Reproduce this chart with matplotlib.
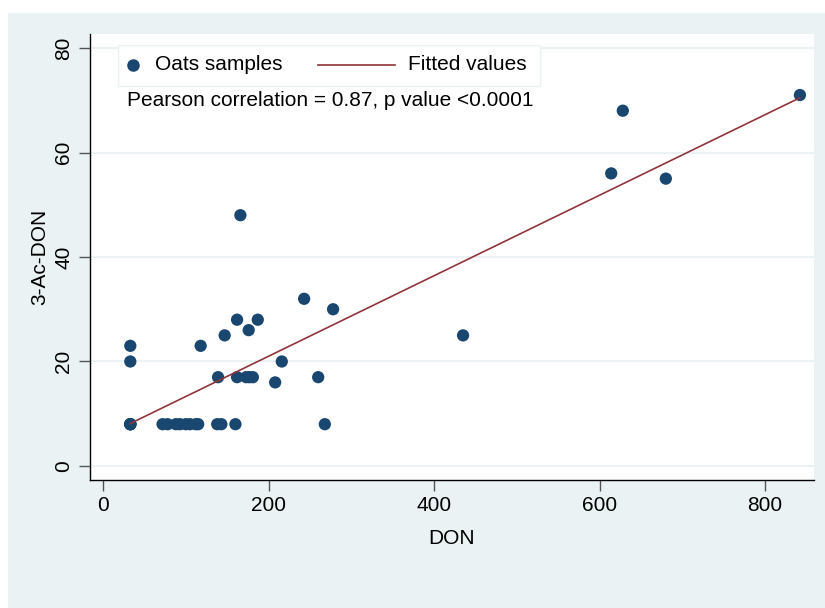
import numpy as np
import matplotlib
matplotlib.use("Agg")
import matplotlib.pyplot as plt
from matplotlib.patches import Rectangle

# DON vs 3-Ac-DON in oats samples
don = [33, 33, 33, 33, 72, 78, 88, 93, 100, 105, 112, 115, 138, 143, 160, 268,
       33, 33, 118, 147, 162, 187, 176, 166, 139, 162, 173, 177, 181, 208, 216,
       243, 260, 278, 435, 614, 628, 680, 842]
ac_don = [8, 8, 8, 8, 8, 8, 8, 8, 8, 8, 8, 8, 8, 8, 8, 8,
          20, 23, 23, 25, 28, 28, 26, 48, 17, 17, 17, 17, 17, 16, 20,
          32, 17, 30, 25, 56, 68, 55, 71]
y_ticks = [0, 20, 40, 60, 80]
x_ticks = [0, 200, 400, 600, 800]

navy = "#1a476f"
maroon = "#90353b"
bg = "#eaf2f3"

plt.rcParams['font.family'] = ['Liberation Sans', 'DejaVu Sans']

fig = plt.figure(figsize=(8.25, 6.08), dpi=100, facecolor="white")
fig.patches.append(Rectangle((8 / 825, 0), 1, 1 - 13 / 608, transform=fig.transFigure,
                             facecolor=bg, edgecolor="none", zorder=-10))
ax = fig.add_axes([90 / 825, 1 - 480 / 608, 724 / 825, 446 / 608])
ax.set_facecolor("white")

# fitted line
x = np.array(don, dtype=float)
y = np.array(ac_don, dtype=float)
slope, intercept = np.polyfit(x, y, 1)
xf = np.array([x.min(), x.max()])
ax.plot(xf, intercept + slope * xf, color=maroon, lw=1.2, zorder=3)
ax.scatter(x, y, s=78, color=navy, edgecolors="none", zorder=2)

ax.set_xlim(-15.7, 859)
ax.set_ylim(-2.68, 82.68)
ax.set_xticks(x_ticks)
ax.set_yticks(y_ticks)
for t in y_ticks:
    ax.axhline(t, color=bg, lw=1.5, zorder=1)

for s in ["top", "right"]:
    ax.spines[s].set_visible(False)
for s in ["left", "bottom"]:
    ax.spines[s].set_color("black")
    ax.spines[s].set_linewidth(1.0)
ax.tick_params(axis="both", length=8, width=1, color="#555555", labelsize=15)
ax.tick_params(axis="y", labelrotation=90, pad=4)
for lbl in ax.get_yticklabels():
    lbl.set_va("center")
ax.set_xlabel("DON", fontsize=15, labelpad=10)
ax.set_ylabel("3-Ac-DON", fontsize=15, labelpad=4)


# legend box drawn by hand (marker and line keys have different widths)
def px(xp, yp):
    return (xp - 90) / 724, (480 - yp) / 446


x0, y0 = px(118, 86)
x1, y1 = px(540, 45)
ax.add_patch(Rectangle((x0, y0), x1 - x0, y1 - y0, transform=ax.transAxes,
                       facecolor="white", edgecolor=bg, lw=1.0, zorder=5))
mx, my = px(133, 65)
ax.plot([mx], [my], "o", color=navy, markersize=8, transform=ax.transAxes, zorder=6)
ax.text(*px(155, 65), "Oats samples", transform=ax.transAxes, fontsize=15,
        va="center", ha="left", zorder=6)
lx0, ly = px(318, 65)
lx1, _ = px(395, 65)
ax.plot([lx0, lx1], [ly, ly], color=maroon, lw=1.2, transform=ax.transAxes, zorder=6)
ax.text(*px(408, 65), "Fitted values", transform=ax.transAxes, fontsize=15,
        va="center", ha="left", zorder=6)

ax.text(*px(127, 101), "Pearson correlation = 0.87, p value <0.0001",
        transform=ax.transAxes, fontsize=15, va="center", ha="left")

fig.savefig("out.png", dpi=100, facecolor=fig.get_facecolor())
